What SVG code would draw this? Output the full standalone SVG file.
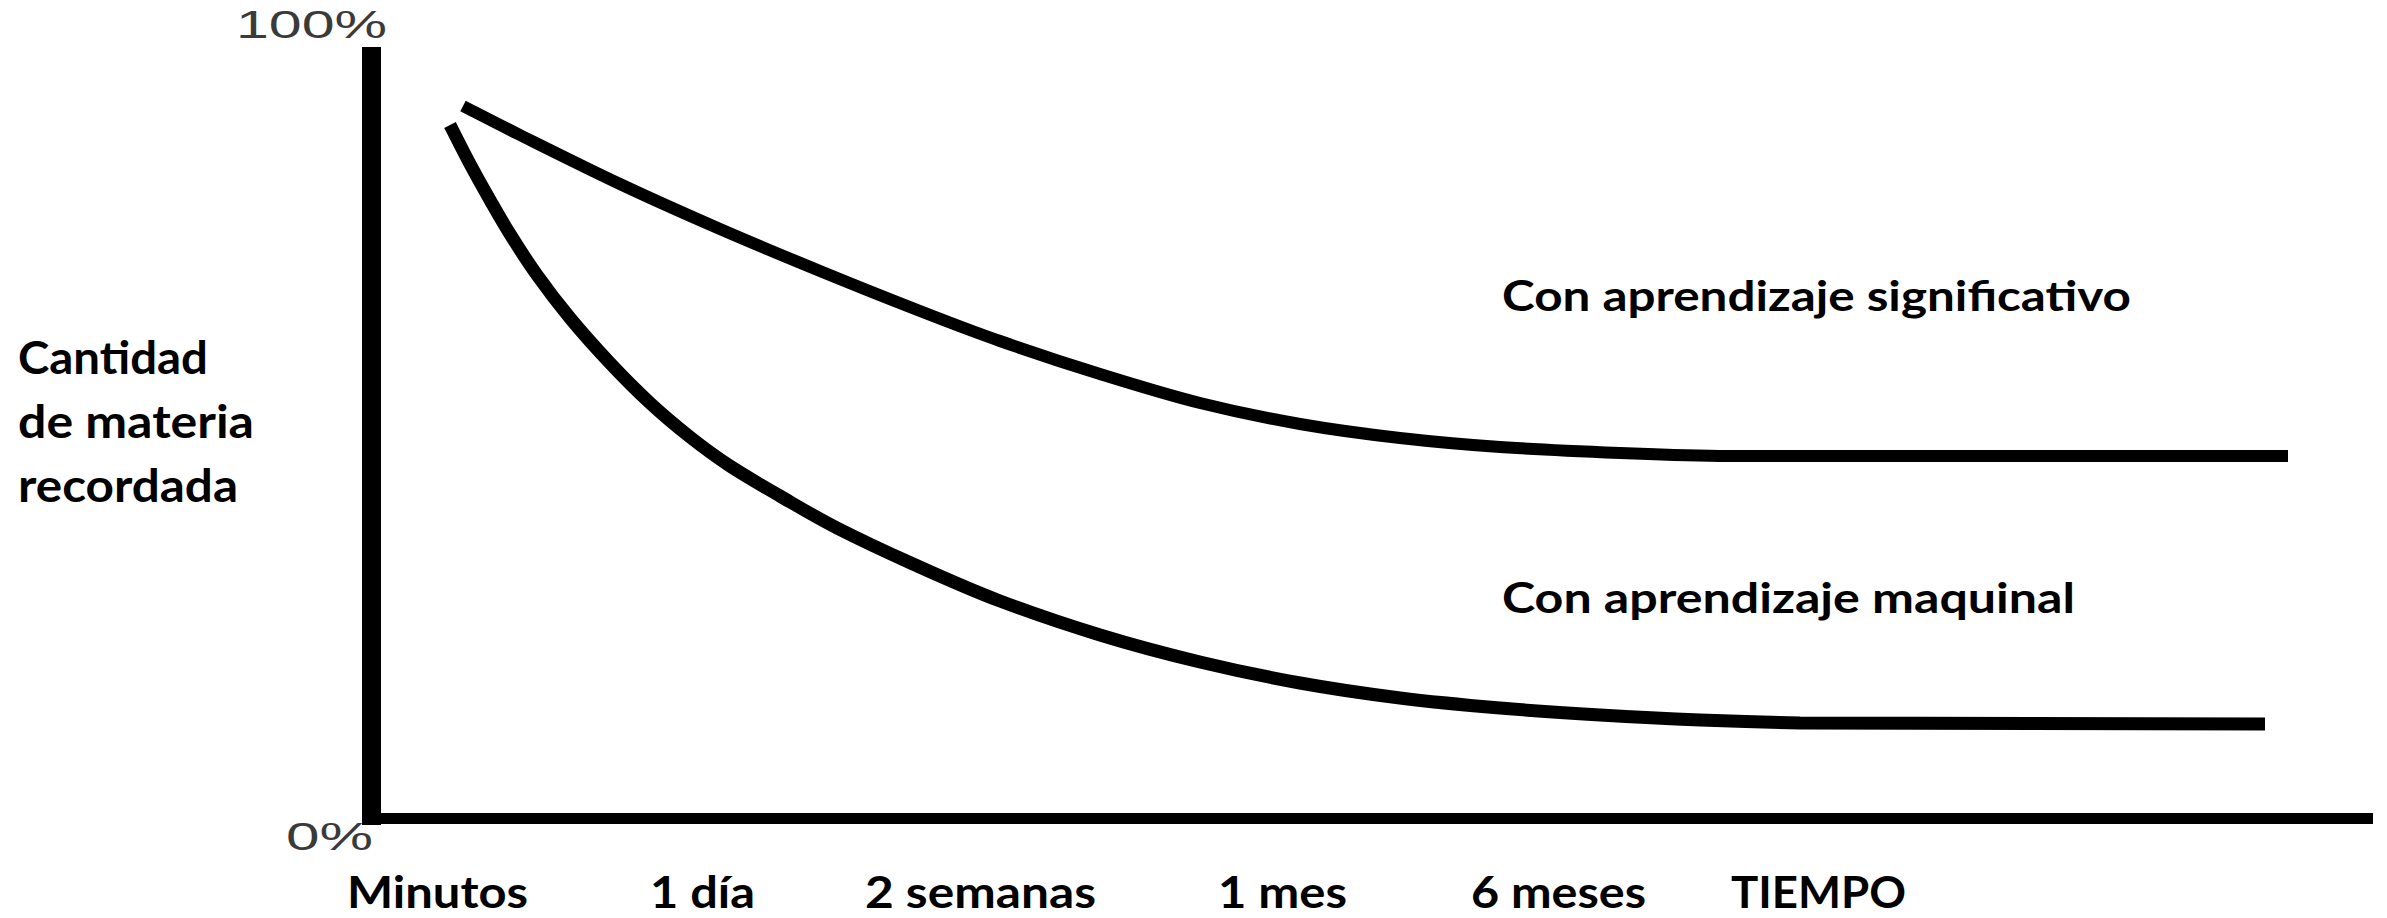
<svg xmlns="http://www.w3.org/2000/svg" width="2387" height="918" viewBox="0 0 2387 918">
<style>
.lbl{font-family:Lato,"Open Sans","Liberation Sans",sans-serif;font-weight:bold;fill:#000;}
.pct{font-family:"Liberation Sans",Arial,sans-serif;font-size:38px;fill:#3a3a3a;}
.curve{fill:none;stroke:#000;stroke-linecap:butt;stroke-linejoin:round;}
</style>
<rect width="2387" height="918" fill="#fff"/>
<g id="axes">
<rect x="362" y="47" width="19" height="778" fill="#000"/>
<rect x="362" y="813" width="2011" height="11" fill="#000"/>
<text class="pct" x="236" y="38" textLength="151" lengthAdjust="spacingAndGlyphs">100%</text>
<text class="pct" x="286" y="850" textLength="87" lengthAdjust="spacingAndGlyphs">0%</text>
</g>
<g id="ylabel">
<text class="lbl" font-size="46" x="18" y="374" textLength="190" lengthAdjust="spacingAndGlyphs">Cantidad</text>
<text class="lbl" font-size="46" x="18" y="438" textLength="236" lengthAdjust="spacingAndGlyphs">de materia</text>
<text class="lbl" font-size="46" x="18" y="502" textLength="220" lengthAdjust="spacingAndGlyphs">recordada</text>
</g>
<g id="xlabels">
<text class="lbl" font-size="44" x="347" y="908" textLength="181" lengthAdjust="spacingAndGlyphs">Minutos</text>
<text class="lbl" font-size="44" x="650" y="908" textLength="105" lengthAdjust="spacingAndGlyphs">1 día</text>
<text class="lbl" font-size="44" x="865" y="908" textLength="231" lengthAdjust="spacingAndGlyphs">2 semanas</text>
<text class="lbl" font-size="44" x="1218" y="908" textLength="129" lengthAdjust="spacingAndGlyphs">1 mes</text>
<text class="lbl" font-size="44" x="1471" y="908" textLength="175" lengthAdjust="spacingAndGlyphs">6 meses</text>
<text class="lbl" font-size="44" x="1731" y="908" textLength="175" lengthAdjust="spacingAndGlyphs">TIEMPO</text>
</g>
<g id="connectors">
<path id="curve-significativo" class="curve" stroke-width="12" d="M463,106 C472.5,110.8 493.8,122 520,135 C546.2,148 586.7,168.3 620,184 C653.3,199.7 686.7,214.5 720,229 C753.3,243.5 786.7,257.3 820,271 C853.3,284.7 890,299.3 920,311 C950,322.7 970,330.5 1000,341 C1030,351.5 1066.7,363.7 1100,374 C1133.3,384.3 1166.7,394.7 1200,403 C1233.3,411.3 1266.7,418.2 1300,424 C1333.3,429.8 1366.7,434.2 1400,438 C1433.3,441.8 1463.3,444.5 1500,447 C1536.7,449.5 1583.3,451.5 1620,453 C1656.7,454.5 1686.7,455.5 1720,456 L2288,456"/>
<path id="curve-maquinal" class="curve" stroke-width="13" d="M450,125 C453.3,131.5 463.3,151.5 470,164 C476.7,176.5 483.3,188.3 490,200 C496.7,211.7 502.2,221.5 510,234 C517.8,246.5 527,261 537,275 C547,289 558,303.5 570,318 C582,332.5 595.7,347.8 609,362 C622.3,376.2 636.5,390.5 650,403 C663.5,415.5 676.7,426.5 690,437 C703.3,447.5 715,456.2 730,466 C745,475.8 762.2,485.7 780,496 C797.8,506.3 814.8,516.7 837,528 C859.2,539.3 885.8,551.8 913,564 C940.2,576.2 968.8,589.2 1000,601 C1031.2,612.8 1066.7,624.8 1100,635 C1133.3,645.2 1166.7,654 1200,662 C1233.3,670 1266.7,677 1300,683 C1333.3,689 1366.7,693.8 1400,698 C1433.3,702.2 1466.7,705.2 1500,708 C1533.3,710.8 1566.7,713 1600,715 C1633.3,717 1666.7,718.7 1700,720 C1733.3,721.3 1766.7,722.3 1800,723 L2265,724"/>
</g>
<g id="legend-significativo">
<text class="lbl" font-size="42" x="1502" y="311" textLength="629" lengthAdjust="spacingAndGlyphs">Con aprendizaje significativo</text>
</g>
<g id="legend-maquinal">
<text class="lbl" font-size="42" x="1502" y="613" textLength="573" lengthAdjust="spacingAndGlyphs">Con aprendizaje maquinal</text>
</g>
</svg>
